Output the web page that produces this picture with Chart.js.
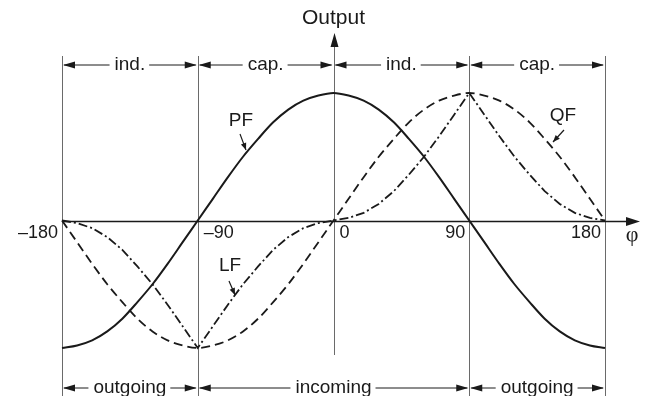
<!DOCTYPE html>
<html>
<head>
<meta charset="utf-8">
<script src="https://cdn.jsdelivr.net/npm/chart.js@4"></script>
<style>
  html, body { margin: 0; padding: 0; background: #fff; }
  #wrap { width: 651px; height: 396px; position: relative; }
</style>
</head>
<body>
<div id="wrap"><canvas id="c"></canvas></div>
<script>
// Phase angle in degrees, 10 degree steps
const phi = [-180, -170, -160, -150, -140, -130, -120, -110, -100, -90,
             -80, -70, -60, -50, -40, -30, -20, -10, 0,
             10, 20, 30, 40, 50, 60, 70, 80, 90,
             100, 110, 120, 130, 140, 150, 160, 170, 180];

// PF (solid)
const pfValues = [-1, -0.98, -0.94, -0.87, -0.77, -0.64, -0.5, -0.34, -0.17, 0,
                  0.17, 0.34, 0.5, 0.64, 0.77, 0.87, 0.94, 0.98, 1,
                  0.98, 0.94, 0.87, 0.77, 0.64, 0.5, 0.34, 0.17, 0,
                  -0.17, -0.34, -0.5, -0.64, -0.77, -0.87, -0.94, -0.98, -1];

// QF (dashed)
const qfValues = [0, -0.17, -0.34, -0.5, -0.64, -0.77, -0.87, -0.94, -0.98, -1,
                  -0.98, -0.94, -0.87, -0.77, -0.64, -0.5, -0.34, -0.17, 0,
                  0.17, 0.34, 0.5, 0.64, 0.77, 0.87, 0.94, 0.98, 1,
                  0.98, 0.94, 0.87, 0.77, 0.64, 0.5, 0.34, 0.17, 0];

// LF (dash-dot)
const lfValues = [0, -0.02, -0.06, -0.13, -0.23, -0.36, -0.5, -0.66, -0.83, -1,
                  -0.83, -0.66, -0.5, -0.36, -0.23, -0.13, -0.06, -0.02, 0,
                  0.02, 0.06, 0.13, 0.23, 0.36, 0.5, 0.66, 0.83, 1,
                  0.83, 0.66, 0.5, 0.36, 0.23, 0.13, 0.06, 0.02, 0];

const xTicks = [-180, -90, 0, 90, 180];
const xTickLabels = ['\u2013180', '\u201390', '0', '90', '180'];
const boundaries = [-180, -90, 90, 180];
const topSpans = [[-180, -90, 'ind.'], [-90, 0, 'cap.'], [0, 90, 'ind.'], [90, 180, 'cap.']];
const bottomSpans = [[-180, -90, 'outgoing'], [-90, 90, 'incoming'], [90, 180, 'outgoing']];

const INK = '#1a1a1a';
const GREY = '#6a6a6a';
const FAMILY = "'Liberation Sans', Arial, sans-serif";
const FONT = '19px ' + FAMILY;
const TICK_FONT = '18px ' + FAMILY;

const toPts = vals => phi.map((p, i) => ({ x: p, y: vals[i] }));

function head(ctx, tx, ty, dx, dy, len, half) {
  // filled arrow head with tip at (tx, ty) pointing along (dx, dy)
  const n = Math.hypot(dx, dy); dx /= n; dy /= n;
  const bx = tx - dx * len, by = ty - dy * len;
  ctx.beginPath();
  ctx.moveTo(tx, ty);
  ctx.lineTo(bx - dy * half, by + dx * half);
  ctx.lineTo(bx + dy * half, by - dx * half);
  ctx.closePath();
  ctx.fill();
}

function dimension(ctx, x1, x2, yy, label) {
  ctx.font = FONT;
  const w = ctx.measureText(label).width;
  const mid = (x1 + x2) / 2;
  ctx.strokeStyle = INK; ctx.fillStyle = INK; ctx.lineWidth = 1;
  ctx.beginPath();
  ctx.moveTo(x1 + 2, yy); ctx.lineTo(mid - w / 2 - 5, yy);
  ctx.moveTo(mid + w / 2 + 4, yy); ctx.lineTo(x2 - 2, yy);
  ctx.stroke();
  head(ctx, x1 + 1, yy, -1, 0, 12, 3.5);
  head(ctx, x2 - 1, yy, 1, 0, 12, 3.5);
  ctx.textAlign = 'center'; ctx.textBaseline = 'middle';
  ctx.fillText(label, mid, yy);
}

function pointer(ctx, x1, y1, x2, y2) {
  ctx.strokeStyle = INK; ctx.fillStyle = INK; ctx.lineWidth = 1.2;
  ctx.beginPath(); ctx.moveTo(x1, y1); ctx.lineTo(x2, y2); ctx.stroke();
  head(ctx, x2, y2, x2 - x1, y2 - y1, 7, 2.8);
}

const frame = {
  id: 'frame',
  beforeDatasetsDraw(chart) {
    const { ctx, scales: { x, y } } = chart;
    const X = v => x.getPixelForValue(v), Y = v => y.getPixelForValue(v);
    ctx.save();
    // vertical boundary lines
    ctx.strokeStyle = GREY; ctx.lineWidth = 1;
    boundaries.forEach(b => {
      ctx.beginPath(); ctx.moveTo(Math.round(X(b)) + 0.5, 56); ctx.lineTo(Math.round(X(b)) + 0.5, 396); ctx.stroke();
    });
    // y axis with arrow
    const x0 = Math.round(X(0)) + 0.5;
    ctx.beginPath(); ctx.moveTo(x0, 355); ctx.lineTo(x0, 44); ctx.stroke();
    ctx.fillStyle = INK;
    head(ctx, x0, 33, 0, -1, 14, 4);
    // x axis with arrow
    const y0 = Math.round(Y(0)) + 0.5;
    ctx.strokeStyle = INK; ctx.lineWidth = 1.5;
    ctx.beginPath(); ctx.moveTo(X(-180), y0); ctx.lineTo(628, y0); ctx.stroke();
    head(ctx, 640, y0, 1, 0, 14, 4.5);
    ctx.restore();
  },
  afterDatasetsDraw(chart) {
    const { ctx, scales: { x, y } } = chart;
    const X = v => x.getPixelForValue(v), Y = v => y.getPixelForValue(v);
    ctx.save();
    ctx.fillStyle = INK;
    ctx.font = TICK_FONT;
    // tick labels
    const ty = Y(0) + 13;
    ctx.textBaseline = 'middle';
    xTicks.forEach((t, i) => {
      const px = X(t);
      if (t < 0 && t > -180 || t === 0) { ctx.textAlign = 'left'; ctx.fillText(xTickLabels[i], px + 6, ty); }
      else { ctx.textAlign = 'right'; ctx.fillText(xTickLabels[i], px - 4, ty); }
    });
    // axis titles
    ctx.textAlign = 'center';
    ctx.font = '21px ' + FAMILY;
    ctx.fillText('Output', X(0), 18);
    ctx.font = "22px 'Liberation Serif', 'DejaVu Serif', serif";
    ctx.fillText('\u03c6', 632, Y(0) + 15);
    // dimension arrows
    topSpans.forEach(s => dimension(ctx, X(s[0]), X(s[1]), 65, s[2]));
    bottomSpans.forEach(s => dimension(ctx, X(s[0]), X(s[1]), 388, s[2]));
    // curve labels
    ctx.font = FONT; ctx.textAlign = 'center'; ctx.textBaseline = 'middle';
    ctx.fillStyle = INK;
    ctx.fillText('PF', 241, 121);
    ctx.fillText('QF', 563, 116);
    ctx.fillText('LF', 230, 266);
    pointer(ctx, 240, 134, 246, 150);
    pointer(ctx, 564, 130, 553, 142);
    pointer(ctx, 229, 281, 235, 295);
    ctx.restore();
  }
};

new Chart(document.getElementById('c'), {
  type: 'line',
  data: {
    datasets: [
      { label: 'PF', data: toPts(pfValues), borderColor: INK, borderWidth: 2,
        cubicInterpolationMode: 'monotone', pointRadius: 0, clip: false },
      { label: 'QF', data: toPts(qfValues), borderColor: INK, borderWidth: 1.8,
        borderDash: [9, 5], cubicInterpolationMode: 'monotone', pointRadius: 0, clip: false },
      { label: 'LF', data: toPts(lfValues), borderColor: INK, borderWidth: 1.8,
        borderDash: [9, 3, 2, 3], tension: 0, pointRadius: 0, clip: false }
    ]
  },
  options: {
    responsive: true,
    maintainAspectRatio: false,
    animation: false,
    layout: { padding: { left: 62, right: 46, top: 93, bottom: 48 } },
    scales: {
      x: { type: 'linear', min: -180, max: 180, display: false },
      y: { min: -1, max: 1, display: false }
    },
    plugins: { legend: { display: false }, tooltip: { enabled: false } }
  },
  plugins: [frame]
});
</script>
</body>
</html>
